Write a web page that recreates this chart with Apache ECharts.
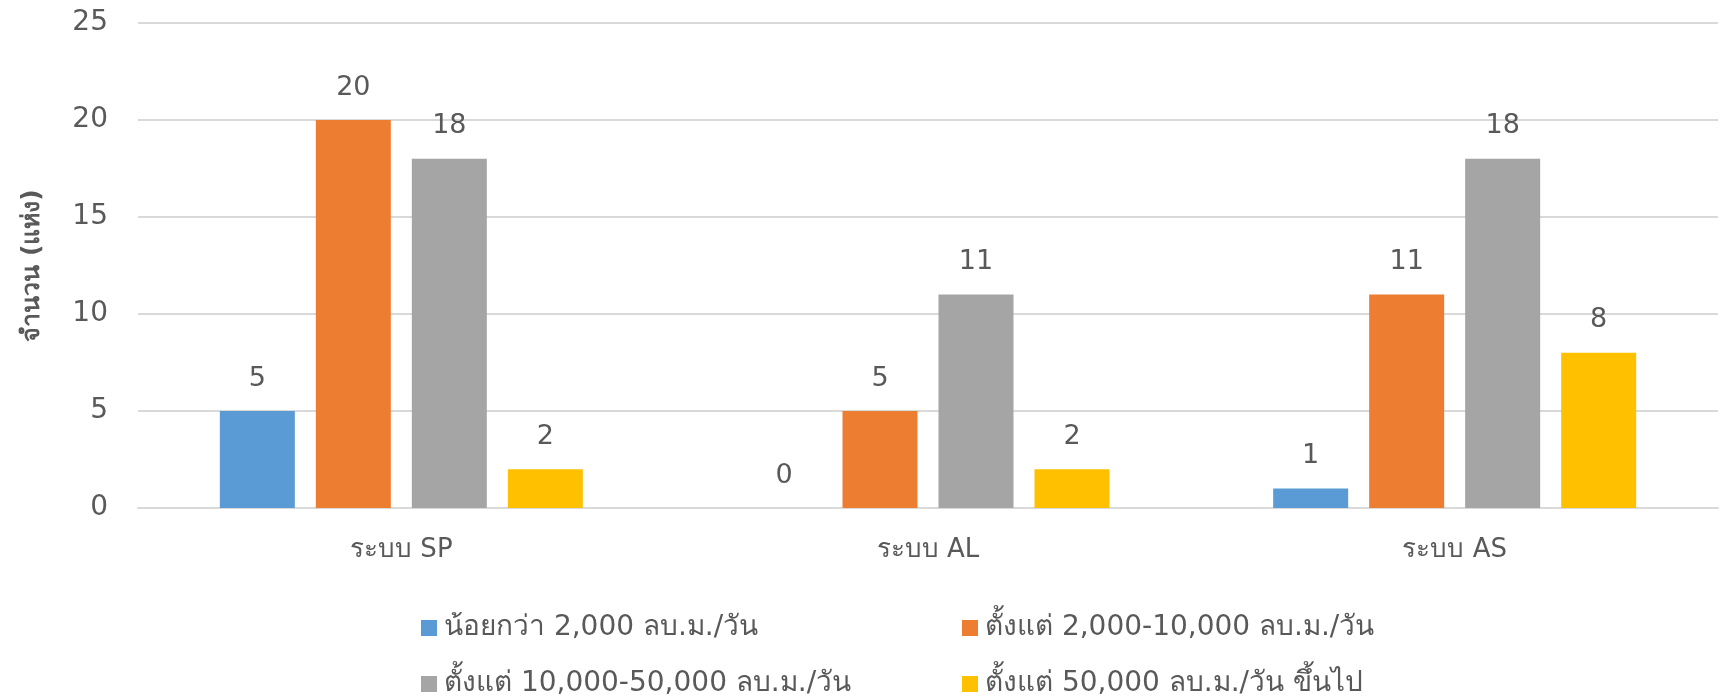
<!DOCTYPE html>
<html>
<head>
<meta charset="utf-8">
<script src="https://cdn.jsdelivr.net/npm/echarts@6/dist/echarts.min.js"></script>
<style>
  html, body { margin: 0; padding: 0; background: #fff; }
  #chart_main { width: 1734px; height: 700px; }
</style>
</head>
<body>
<div id="chart_main"></div>
<script>
// categories and series
var sysNames = ['ระบบ SP', 'ระบบ AL', 'ระบบ AS'];
var seriesNames = [
    'น้อยกว่า 2,000 ลบ.ม./วัน',
    'ตั้งแต่ 2,000-10,000 ลบ.ม./วัน',
    'ตั้งแต่ 10,000-50,000 ลบ.ม./วัน',
    'ตั้งแต่ 50,000 ลบ.ม./วัน ขึ้นไป'
];
var lessThan2k = [5, 0, 1];
var from2kTo10k = [20, 5, 11];
var from10kTo50k = [18, 11, 18];
var over50k = [2, 2, 8];
var yTicks = [0, 5, 10, 15, 20, 25];

var colors = ['#5B9BD5', '#ED7D31', '#A5A5A5', '#FFC000'];
var txtColor = '#595959';
var fontFam = 'Tahoma, "DejaVu Sans", "Noto Sans", sans-serif';

function makeSeries(idx, data) {
    return {
        name: seriesNames[idx],
        type: 'bar',
        data: data,
        barWidth: 75,
        barGap: '28%',
        itemStyle: { color: colors[idx] },
        label: {
            show: true,
            position: 'top',
            distance: 19,
            color: txtColor,
            fontSize: 27,
            fontFamily: fontFam
        }
    };
}

// one legend per item so each sits where it sits in the picture
var legendPos = [[416, 609], [957, 609], [416, 665], [957, 665]];
var legends = [];
for (var i = 0; i < seriesNames.length; i++) {
    legends.push({
        data: [seriesNames[i]],
        left: legendPos[i][0],
        top: legendPos[i][1],
        icon: 'rect',
        itemWidth: 16,
        itemHeight: 16,
        textStyle: { color: txtColor, fontSize: 28, fontFamily: fontFam, padding: [0, 0, 0, 2] }
    });
}

var myChart = echarts.init(document.getElementById('chart_main'));
var option = {
    backgroundColor: '#fff',
    animation: false,
    legend: legends,
    grid: {
        left: 138,
        right: 16,
        top: 23,
        bottom: 192,
        containLabel: false
    },
    xAxis: {
        type: 'category',
        data: sysNames,
        axisTick: { show: false },
        axisLine: { lineStyle: { color: '#D9D9D9', width: 2 } },
        axisLabel: {
            color: txtColor,
            fontSize: 26,
            fontFamily: fontFam,
            margin: 29
        }
    },
    yAxis: {
        type: 'value',
        min: yTicks[0],
        max: yTicks[yTicks.length - 1],
        interval: 5,
        name: 'จำนวน (แห่ง)',
        nameLocation: 'middle',
        nameGap: 93,
        nameTextStyle: { color: txtColor, fontSize: 25, fontWeight: 'bold', fontFamily: fontFam },
        axisLine: { show: false },
        axisTick: { show: false },
        axisLabel: { color: txtColor, fontSize: 28, fontFamily: fontFam, margin: 30 },
        splitLine: { lineStyle: { color: '#D9D9D9', width: 2 } }
    },
    series: [
        makeSeries(0, lessThan2k),
        makeSeries(1, from2kTo10k),
        makeSeries(2, from10kTo50k),
        makeSeries(3, over50k)
    ]
};
myChart.setOption(option);
window.onresize = function () {
    myChart.resize();
};
</script>
</body>
</html>
